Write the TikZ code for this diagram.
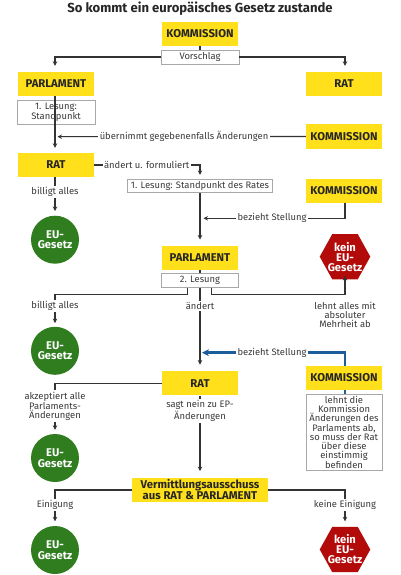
\documentclass[tikz,border=0pt]{standalone}
\usepackage{fontspec}
\setmainfont{Fira Sans}
\usetikzlibrary{arrows.meta,calc}
\definecolor{ygelb}{HTML}{FFE01A}
\definecolor{egruen}{HTML}{2F7D1F}
\definecolor{krot}{HTML}{B30A0A}
\definecolor{sblau}{HTML}{1D5D9B}
\definecolor{linie}{HTML}{333333}
\definecolor{rahmen}{HTML}{A8A8A8}
\definecolor{txt}{HTML}{3A3A3A}
\tikzset{
  ybox/.style={fill=ygelb, minimum width=76pt, minimum height=24pt, inner sep=0pt, align=center,
    font=\bfseries\fontsize{11.3}{11.5}\selectfont, text=black!85},
  wbox/.style={draw=rahmen, line width=0.8pt, fill=white, inner sep=0pt, align=center,
    font=\fontsize{9.4}{8.9}\selectfont, text=txt},
  lbl/.style={fill=white, inner sep=1.5pt, align=center, text=txt,
    font=\fontsize{9.4}{8.7}\selectfont},
  eu/.style={circle, fill=egruen, minimum size=48pt, inner sep=0pt, text=white, align=center,
    font=\bfseries\fontsize{11.2}{10.5}\selectfont},
  keintxt/.style={text=white, align=center, inner sep=0pt, font=\bfseries\fontsize{11.2}{10}\selectfont},
  conn/.style={draw=linie, line width=1.1pt},
  arr/.style={conn, -{Stealth[length=4.5pt,width=4.5pt]}},
  barr/.style={draw=sblau, line width=2.5pt, -{Stealth[length=7pt,width=7pt]}},
}
\newcommand{\hexa}[1]{\fill[krot] ($(#1)+(-25.3,0)$) -- ($(#1)+(-12.7,-22.7)$) -- ($(#1)+(12.7,-22.7)$) -- ($(#1)+(25.3,0)$) -- ($(#1)+(12.7,22.7)$) -- ($(#1)+(-12.7,22.7)$) -- cycle;}
\begin{document}
\begin{tikzpicture}[x=1pt,y=-1pt]
\useasboundingbox (0,0) rectangle (400,575);
% title
\node[font=\bfseries\fontsize{13.1}{14}\selectfont, text=black!85] (title) at (200,8.5) {So kommt ein europäisches Gesetz zustande};
% nodes
\node[ybox] (kom1) at (200,34) {KOMMISSION};
\node[wbox, minimum width=78pt, minimum height=14pt] (vor) at (200,57) {Vorschlag};
\node[ybox] (parl1) at (56,84) {PARLAMENT};
\node[ybox] (rat1) at (344,84) {RAT};
\node[wbox, minimum width=78pt, minimum height=23.5pt] (les1) at (56,112.3) {1. Lesung:\\Standpunkt};
\node[ybox] (kom2) at (344,136.5) {KOMMISSION};
\node[ybox] (rat2) at (56,165) {RAT};
\node[wbox, minimum width=144.6pt, minimum height=13.4pt] (les1r) at (200,186) {1. Lesung: Standpunkt des Rates};
\node[ybox] (kom3) at (344,190.5) {KOMMISSION};
\node[eu] (eu1) at (55,239.7) {EU-\\Gesetz};
\node[ybox] (parl2) at (200,257.7) {PARLAMENT};
\coordinate (k1c) at (345,256.7);
\hexa{k1c}
\node[keintxt] (kein1) at (k1c) {kein\\EU-\\Gesetz};
\node[wbox, minimum width=77pt, minimum height=14pt] (les2) at (200,280.5) {2. Lesung};
\node[eu] (eu2) at (55,350.8) {EU-\\Gesetz};
\node[wbox, minimum width=76pt, minimum height=76.4pt] (lehnt) at (344,432.5) {lehnt die\\Kommission\\Änderungen des\\Parlaments ab,\\so muss der Rat\\über diese\\einstimmig\\befinden};
% blue connector (behind kom4)
\coordinate (b1) at (345,352.7);
\coordinate (b2) at (200,352.7);
\draw[barr, shorten >=2pt] (lehnt.north -| b1) -- (b1) -- (b2);
\node[lbl] (bst2) at (272,352.7) {bezieht Stellung};
\node[ybox] (kom4) at (344,377.7) {KOMMISSION};
\node[ybox] (rat3) at (200,383.3) {RAT};
\node[eu] (eu3) at (55,458) {EU-\\Gesetz};
\node[ybox, minimum width=136pt, minimum height=23.4pt, font=\bfseries\fontsize{11.3}{11}\selectfont] (verm) at (200,490) {Vermittlungsausschuss\\aus RAT \& PARLAMENT};
\node[eu] (eu4) at (55,550) {EU-\\Gesetz};
\coordinate (k2c) at (345,549.5);
\hexa{k2c}
\node[keintxt] (kein2) at (k2c) {kein\\EU-\\Gesetz};

% connectors
\draw[conn] (kom1.south) -- (vor.north);
\draw[arr, shorten >=6pt] (vor.west) -| (parl1.north -| eu1.north);
\draw[arr, shorten >=6pt] (vor.east) -| (rat1.north -| k1c);
\draw[conn] (parl1.south -| eu1.north) -- (les1.south -| eu1.north);
\draw[arr, shorten >=5pt] (les1.south -| eu1.north) -- (rat2.north -| eu1.north);
\coordinate (c1) at (55,136.7);
\draw[arr, shorten >=2.5pt] (kom2.west) -- (c1);
\node[lbl] (lueb) at (184,136.7) {übernimmt gegebenenfalls Änderungen};
\coordinate (c2) at (200,165);
\draw[arr, shorten >=4pt] (rat2.east) -- (c2) -- (les1r.north);
\node[lbl] (laend) at (146.7,164.5) {ändert u. formuliert};
\draw[arr, shorten >=4.5pt] (rat2.south -| eu1.north) -- (eu1.north);
\node[lbl] (lbil1) at (55,192.3) {billigt alles};
\draw[arr, shorten >=6pt] (les1r.south) -- (parl2.north);
\coordinate (c3) at (200,218.3);
\draw[arr, shorten >=3.5pt] (kom3.south -| k1c) |- (c3);
\node[lbl] (lbst1) at (272,218.3) {bezieht Stellung};
\draw[conn] (parl2.south) -- (les2.north);
\draw[arr, shorten >=3.5pt] ([xshift=-12.3pt]les2.south) -- ++(0,7) -| (eu2.north);
\node[lbl] (lbil2) at (55,306) {billigt alles};
\draw[arr, shorten >=6.5pt] (les2.south) -- (rat3.north);
\node[lbl] (laendert) at (200,306) {ändert};
\draw[arr, shorten >=-3.5pt] ([xshift=11.7pt]les2.south) -- ++(0,7) -| ($(k1c)+(0,22.7)$);
\node[lbl] (llehnt) at (345,314.7) {lehnt alles mit\\absoluter\\Mehrheit ab};
\draw[arr, shorten >=4pt] (rat3.west) -| (eu3.north);
\node[lbl] (lakz) at (55,406) {akzeptiert alle\\Parlaments-\\Änderungen};
\draw[arr, shorten >=7pt] (rat3.south) -- (verm.north);
\node[lbl] (lsagt) at (200,411) {sagt nein zu EP-\\Änderungen};
\draw[arr, shorten >=4.5pt] (verm.west) -| (eu4.north);
\node[lbl] (lein) at (55,505) {Einigung};
\draw[arr, shorten >=5.5pt] (verm.east) -| ($(k2c)+(0,-22.7)$);
\node[lbl] (lkein) at (345,505) {keine Einigung};
\end{tikzpicture}
\end{document}
